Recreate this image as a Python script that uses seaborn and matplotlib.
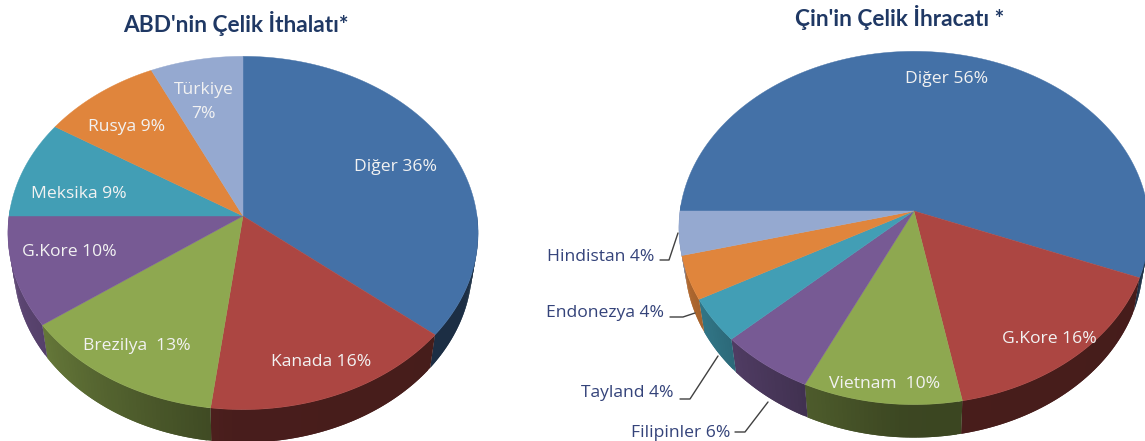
import numpy as np
import matplotlib.pyplot as plt
import seaborn as sns

# data
abd_names = ["Diğer", "Kanada", "Brezilya ", "G.Kore", "Meksika", "Rusya", "Türkiye\n"]
abd_values = [36, 16, 13, 10, 9, 9, 7]
cin_names = ["Diğer", "G.Kore", "Vietnam ", "Filipinler", "Tayland", "Endonezya", "Hindistan"]
cin_values = [56, 16, 10, 6, 4, 4, 4]
abd_title = "ABD'nin Çelik İthalatı*"
cin_title = "Çin'in Çelik İhracatı *"

sns.set_style("white")
plt.rcParams["font.family"] = ["Open Sans", "DejaVu Sans"]
colors = sns.color_palette(["#4471a7", "#ac4642", "#8ea850", "#775a94",
                            "#429eb5", "#e0853c", "#95a9d0"])

W, H = 1145, 441
RX, RY, K, DEPTH = 234, 175, 0.096, 33
WHITE = "#f2f2f2"
NAVY = "#34437a"

fig = plt.figure(figsize=(W / 100, H / 100), dpi=100)
ax = fig.add_axes([0, 0, 1, 1])
ax.set_xlim(0, W)
ax.set_ylim(H, 0)
ax.axis("off")


def project(cx, cy, t, bottom=False):
    # circle -> screen, far side is a bit smaller
    u, v = np.cos(t), np.sin(t)
    x = RX * u / (1 + K * v)
    y = cy - RY * v / (1 + K * v)
    if bottom:
        return cx + x * 0.975, y + DEPTH
    return cx + x, y


def side_shade(t):
    # lighter on the left, dark from the front to the right
    deg = np.degrees(t) % 360
    return np.interp(deg, [180, 215, 250, 268, 360], [0.85, 0.72, 0.52, 0.42, 0.40])


def draw_pie(cx, cy, values, start):
    ends = start - np.cumsum(values) / sum(values) * 2 * np.pi
    begins = np.r_[start, ends[:-1]]

    # side walls first, small overlapping strips for the gradient
    for t0, t1, c in zip(begins, ends, colors):
        grid = np.linspace(t0, t1, max(4, int(abs(t1 - t0) * 60)))
        for i in range(len(grid) - 1):
            a, b = grid[i], grid[min(i + 2, len(grid) - 1)]
            if np.sin(grid[i]) > 0.02:
                continue
            xa, ya = project(cx, cy, a)
            xb, yb = project(cx, cy, b)
            xc, yc = project(cx, cy, b, bottom=True)
            xd, yd = project(cx, cy, a, bottom=True)
            shade = np.array(c) * side_shade(grid[i])
            ax.fill([xa, xb, xc, xd], [ya, yb, yc, yd], color=shade, lw=0, zorder=1)

    # top face
    for t0, t1, c in zip(begins, ends, colors):
        grid = np.linspace(t0, t1, 120)
        x, y = project(cx, cy, grid)
        ax.fill(np.r_[cx, x], np.r_[cy, y], color=c, lw=0.3, zorder=2)


draw_pie(243, 216, abd_values, np.pi / 2)
draw_pie(914, 211, cin_values, np.pi)

# labels
abd_pos = [(395, 167), (321, 362), (137, 346), (69, 252), (79, 194), (127, 127), (204, 102)]
cin_pos = [(947, 79), (1049, 339), (885, 384), (681, 433), (627, 393), (605, 313), (601, 257)]
cin_outer = ["Filipinler", "Tayland", "Endonezya", "Hindistan"]

for name, val, (x, y) in zip(abd_names, abd_values, abd_pos):
    ax.text(x, y, f"{name} {val}%".replace("\n ", "\n"), color=WHITE, fontsize=12.6,
            ha="center", va="center", zorder=5, linespacing=1.75)

for name, val, (x, y) in zip(cin_names, cin_values, cin_pos):
    col = NAVY if name in cin_outer else WHITE
    ax.text(x, y, f"{name} {val}%", color=col, fontsize=12.6,
            ha="center", va="center", zorder=5)

# leader lines
leaders = [
    ([660, 669, 678], [260, 260, 233]),
    ([670, 683, 695], [317, 317, 313]),
    ([680, 690, 718], [399, 399, 356]),
    ([735, 745, 768], [432, 432, 402]),
]
for lx, ly in leaders:
    ax.plot(lx, ly, color="#404040", lw=1, zorder=4)

ax.text(236, 24, abd_title, color="#1f3864", fontsize=16.3, fontweight="bold",
        ha="center", va="center", family="Lato")
ax.text(900, 18, cin_title, color="#1f3864", fontsize=16.3, fontweight="bold",
        ha="center", va="center", family="Lato")

fig.savefig("out.png", dpi=100)
